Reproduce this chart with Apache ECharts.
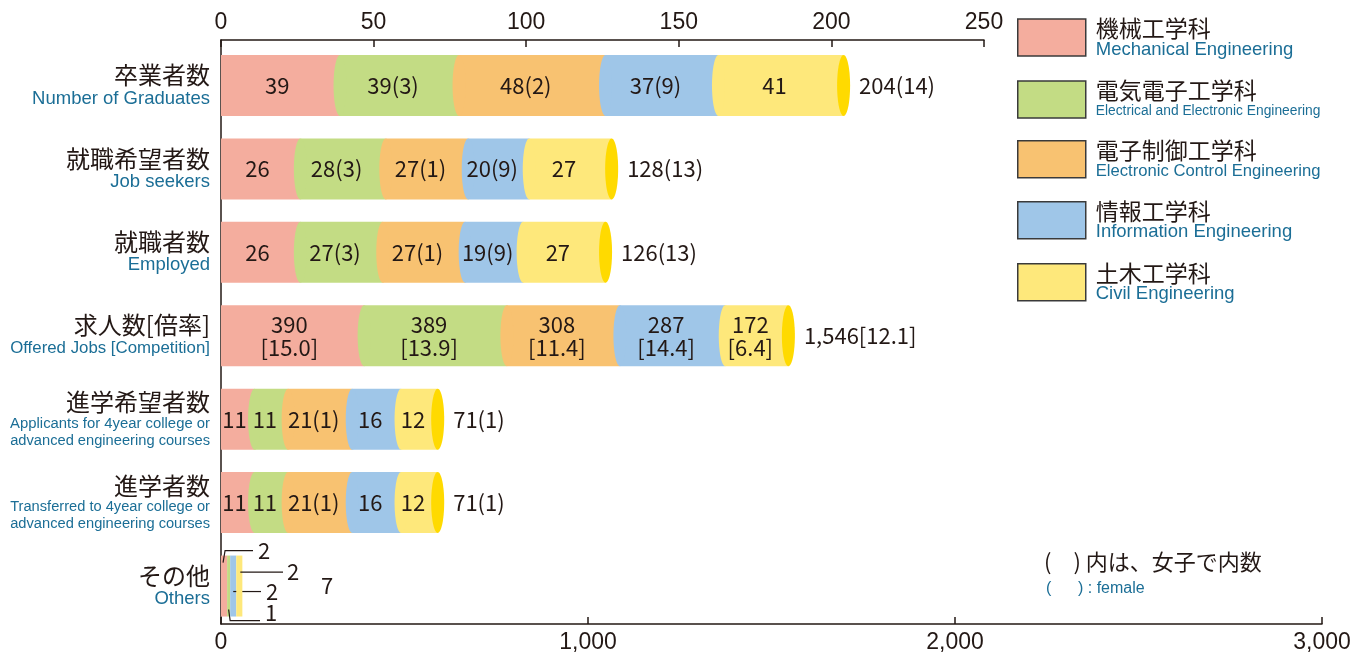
<!DOCTYPE html>
<html>
<head>
<meta charset="utf-8">
<script src="https://cdn.jsdelivr.net/npm/echarts@6/dist/echarts.min.js"></script>
<style>
  html, body { margin: 0; padding: 0; background: #fff; }
  #chart { width: 1356px; height: 653px; }
</style>
</head>
<body>
<div id="chart"></div>
<script>
// ---- rows (top to bottom) ----
const rowsJa = ['卒業者数', '就職希望者数', '就職者数', '求人数[倍率]', '進学希望者数', '進学者数', 'その他'];
const rowsEn = [
  ['Number of Graduates'],
  ['Job seekers'],
  ['Employed'],
  ['Offered Jobs [Competition]'],
  ['Applicants for 4year college or', 'advanced engineering courses'],
  ['Transferred to 4year college or', 'advanced engineering courses'],
  ['Others']
];

// ---- departments ----
const deptJa = ['機械工学科', '電気電子工学科', '電子制御工学科', '情報工学科', '土木工学科'];
const deptEn = ['Mechanical Engineering', 'Electrical and Electronic Engineering',
  'Electronic Control Engineering', 'Information Engineering', 'Civil Engineering'];

// head counts per row, one list per department
const mechanical  = [39, 26, 26, 390, 11, 11, 2];
const electrical  = [39, 28, 27, 389, 11, 11, 1];
const control     = [48, 27, 27, 308, 21, 21, 0];
const information = [37, 20, 19, 287, 16, 16, 2];
const civil       = [41, 27, 27, 172, 12, 12, 2];

// female students included in the counts above
const mechanicalFemale  = [0, 0, 0, 0, 0, 0, 0];
const electricalFemale  = [3, 3, 3, 0, 0, 0, 0];
const controlFemale     = [2, 1, 1, 0, 1, 1, 0];
const informationFemale = [9, 9, 9, 0, 0, 0, 0];
const civilFemale       = [0, 0, 0, 0, 0, 0, 0];

// job offers per job seeker
const competition = [15.0, 13.9, 11.4, 14.4, 6.4];
const competitionTotal = 12.1;

// the job-offer row is read on the 0–3,000 scale, the rest on 0–250
const offersRow = 3;

// ---- styling ----
const INK = '#231815';
const EN_COLOR = '#1b6e96';
const deptColors = ['#f4ad9e', '#c3dc84', '#f8c271', '#9fc6e8', '#fee87b'];
const capColor = '#ffda00';
const JA_FONT = '"Noto Sans CJK JP", sans-serif';
const EN_FONT = '"Liberation Sans", Arial, sans-serif';
const NARROW_FONT = '"Liberation Sans Narrow", "Liberation Sans", sans-serif';
const BAND = 0.731;   // bar thickness, in rows
const RX = 6.5;       // half-width of the cylinder ellipses

const counts = [mechanical, electrical, control, information, civil];
const females = [mechanicalFemale, electricalFemale, controlFemale, informationFemale, civilFemale];

// text measuring, used to fit the English captions into their column
const ctx = document.createElement('canvas').getContext('2d');
function textWidth(t, font) { ctx.font = font; return ctx.measureText(t).width; }
const hasNarrow = textWidth('abcdefghijklm', '18px "Liberation Sans Narrow", monospace') !==
                  textWidth('abcdefghijklm', '18px monospace');

function fitEnglish(text, maxW) {
  const base = 18.5;
  const w = textWidth(text, base + 'px "Liberation Sans"');
  if (w <= maxW) return { fontFamily: EN_FONT, fontSize: base, lineHeight: 21 };
  const scaled = base * maxW / w;
  if (scaled >= 16 || !hasNarrow) return { fontFamily: EN_FONT, fontSize: scaled, lineHeight: scaled >= 16 ? 21 : 17 };
  return { fontFamily: NARROW_FONT, fontSize: 18, lineHeight: 17 };
}

// y-axis captions
const axisRich = { ja: { fontFamily: JA_FONT, fontSize: 24, lineHeight: 26, color: INK, align: 'right' } };
rowsEn.forEach((lines, i) => lines.forEach((t, j) => {
  axisRich['r' + i + '_' + j] = Object.assign({ color: EN_COLOR, align: 'right' }, fitEnglish(t, 200));
}));
function rowLabel(i) {
  return '{ja|' + rowsJa[i] + '}\n' + rowsEn[i].map((t, j) => '{r' + i + '_' + j + '|' + t + '}').join('\n');
}

// legend captions
const legendRich = { ja: { fontFamily: JA_FONT, fontSize: 23, lineHeight: 24, color: INK, padding: [0, 0, 0, 5] } };
deptEn.forEach((t, d) => {
  const f = fitEnglish(t, 225);
  legendRich['l' + d] = Object.assign({ color: EN_COLOR, padding: [0, 0, 0, 5] }, f,
    { lineHeight: f.fontFamily === NARROW_FONT ? 17 : 18 });
});

const fmt = v => v.toLocaleString('en-US');

function segmentText(d, row, v, f) {
  if (row === offersRow) return fmt(v) + '\n[' + competition[d].toFixed(1) + ']';
  return f ? v + '(' + f + ')' : String(v);
}

// leader-line placement for rows too thin to hold their numbers
const leaders = [
  (cx, t, m, b, x0) => ({ pts: [[cx - 1, t + 7], [cx + 1, t - 5], [x0 + 32, t - 5]], tx: x0 + 37, ty: t - 5 }),
  (cx, t, m, b, x0) => ({ pts: [[cx, b - 7], [cx + 1.5, b + 4], [x0 + 39, b + 4]], tx: x0 + 44, ty: b - 4 }),
  (cx, t, m, b, x0) => ({ pts: [[cx, m - 4], [x0 + 52, m - 4]], tx: x0 + 56, ty: m - 4 }),
  (cx, t, m, b, x0) => ({ pts: [[cx, m + 5.5], [x0 + 40, m + 5.5]], tx: x0 + 45, ty: m + 5.5 }),
  (cx, t, m, b, x0) => ({ pts: [[cx + 1, m - 14], [x0 + 62, m - 14]], tx: x0 + 66, ty: m - 14 })
];

const labelFont = { fontFamily: JA_FONT, fontSize: 22, fill: INK };

function renderSegment(d) {
  return function (params, api) {
    const row = api.value(0), start = api.value(1), val = api.value(2),
          fem = api.value(3), total = api.value(4);
    if (!val) return { type: 'group', children: [] };
    const x0 = api.coord([0, row])[0];
    const a = api.coord([start, row]);
    const b = api.coord([start + val, row]);
    const yc = a[1];
    const h = api.size([0, BAND])[1];
    const top = yc - h / 2, bottom = yc + h / 2;
    const thin = api.coord([total, row])[0] - x0 < 40;
    const rx = thin ? 0 : RX;
    const color = deptColors[d];
    const children = [
      { type: 'rect', shape: { x: a[0], y: top, width: b[0] - a[0], height: h }, style: { fill: color } }
    ];
    if (rx && start > 0) {
      children.push({ type: 'ellipse', shape: { cx: a[0], cy: yc, rx: rx, ry: h / 2 }, style: { fill: color } });
    }
    if (rx && start + val >= total - 1e-9) {
      children.push({ type: 'ellipse', shape: { cx: b[0], cy: yc, rx: rx, ry: h / 2 }, style: { fill: capColor } });
    }
    const text = segmentText(d, row, val, fem);
    if (!thin) {
      const left = start > 0 ? a[0] - rx : a[0];
      children.push({ type: 'text', style: Object.assign({
        text: text, x: (left + b[0] - rx) / 2, y: yc, align: 'center', verticalAlign: 'middle', lineHeight: 23
      }, labelFont) });
    } else {
      const L = leaders[d]((a[0] + b[0]) / 2, top, yc, bottom, x0);
      children.push({ type: 'polyline', shape: { points: L.pts }, style: { stroke: INK, lineWidth: 1.2, fill: 'none' } });
      children.push({ type: 'text', style: Object.assign({
        text: text, x: L.tx, y: L.ty, align: 'left', verticalAlign: 'middle'
      }, labelFont) });
    }
    return { type: 'group', children: children };
  };
}

function renderTotal(params, api) {
  const row = api.value(0), total = api.value(1), fem = api.value(2);
  const x0 = api.coord([0, row])[0];
  const end = api.coord([total, row]);
  const thin = end[0] - x0 < 40;
  const tx = Math.max(end[0] + (thin ? 0 : RX) + 9, x0 + 100);
  let text;
  if (row === offersRow) text = fmt(total) + '[' + competitionTotal.toFixed(1) + ']';
  else text = fem ? total + '(' + fem + ')' : String(total);
  return { type: 'text', style: Object.assign({ text: text, x: tx, y: end[1], align: 'left', verticalAlign: 'middle' }, labelFont) };
}

// build series: one per department on each scale, plus the row totals
const rowIdx = rowsJa.map((_, i) => i);
const countRows = rowIdx.filter(r => r !== offersRow);
const offerRows = [offersRow];
const rowTotal = r => counts.reduce((s, c) => s + c[r], 0);
const rowFemale = r => females.reduce((s, c) => s + c[r], 0);

function deptData(d, rows) {
  return rows.map(r => {
    let start = 0;
    for (let k = 0; k < d; k++) start += counts[k][r];
    return [r, start, counts[d][r], females[d][r], rowTotal(r)];
  });
}

const series = [];
[[countRows, 1], [offerRows, 0]].forEach(([rows, g]) => {
  deptJa.forEach((name, d) => {
    series.push({
      type: 'custom', name: name, xAxisIndex: g, yAxisIndex: g,
      itemStyle: { color: deptColors[d] },
      encode: { x: 1, y: 0 },
      renderItem: renderSegment(d),
      data: deptData(d, rows),
      silent: true
    });
  });
  series.push({
    type: 'custom', name: '合計', xAxisIndex: g, yAxisIndex: g,
    encode: { x: 1, y: 0 },
    renderItem: renderTotal,
    data: rows.map(r => [r, rowTotal(r), rowFemale(r)]),
    silent: true
  });
});

const axisLine = { show: true, onZero: false, lineStyle: { color: INK, width: 1.5 } };
const tickFont = hasNarrow ? { fontFamily: NARROW_FONT, fontSize: 26 } : { fontFamily: EN_FONT, fontSize: 23 };

const option = {
  animation: false,
  grid: [
    { left: 221, right: 34, top: 40, bottom: 29, outerBoundsMode: 'none' },
    { left: 221, width: 763, top: 40, bottom: 29, outerBoundsMode: 'none' }
  ],
  xAxis: [
    {
      gridIndex: 0, type: 'value', position: 'bottom', min: 0, max: 3000, interval: 1000,
      axisLine: axisLine,
      axisTick: { show: true, inside: true, length: 7, lineStyle: { color: INK, width: 1.5 } },
      axisLabel: Object.assign({ margin: 7, color: INK, formatter: v => fmt(v) }, tickFont),
      splitLine: { show: false }
    },
    {
      gridIndex: 1, type: 'value', position: 'top', min: 0, max: 250, interval: 50,
      axisLine: axisLine,
      axisTick: { show: true, inside: true, length: 7, lineStyle: { color: INK, width: 1.5 } },
      axisLabel: Object.assign({ margin: 6, color: INK }, tickFont),
      splitLine: { show: false }
    }
  ],
  yAxis: [
    {
      gridIndex: 0, type: 'value', inverse: true, min: -0.545, max: 6.455,
      axisLine: axisLine,
      axisTick: { show: false },
      splitLine: { show: false },
      axisLabel: {
        customValues: rowIdx, margin: 11,
        formatter: v => rowLabel(Math.round(v)),
        rich: axisRich
      }
    },
    { gridIndex: 1, type: 'value', inverse: true, min: -0.545, max: 6.455, show: false }
  ],
  legend: {
    data: deptJa, orient: 'vertical', left: 1017, top: 17, padding: 0,
    itemWidth: 68, itemHeight: 37, itemGap: 20, icon: 'rect', selectedMode: false,
    itemStyle: { borderColor: '#3a3a3a', borderWidth: 1.5 },
    formatter: name => {
      const d = deptJa.indexOf(name);
      return '{ja|' + name + '}\n{l' + d + '|' + deptEn[d] + '}';
    },
    textStyle: { rich: legendRich }
  },
  graphic: [
    { type: 'text', left: 1044, top: 551, style: { text: '(\u3000) 内は、女子で内数', font: '22px "Noto Sans CJK JP"', fill: INK } },
    { type: 'text', left: 1046, top: 581, style: { text: '(      ) : female', font: '16px "Liberation Sans"', fill: EN_COLOR } }
  ],
  series: series
};

echarts.init(document.getElementById('chart'), null, { renderer: 'canvas' }).setOption(option);
</script>
</body>
</html>
